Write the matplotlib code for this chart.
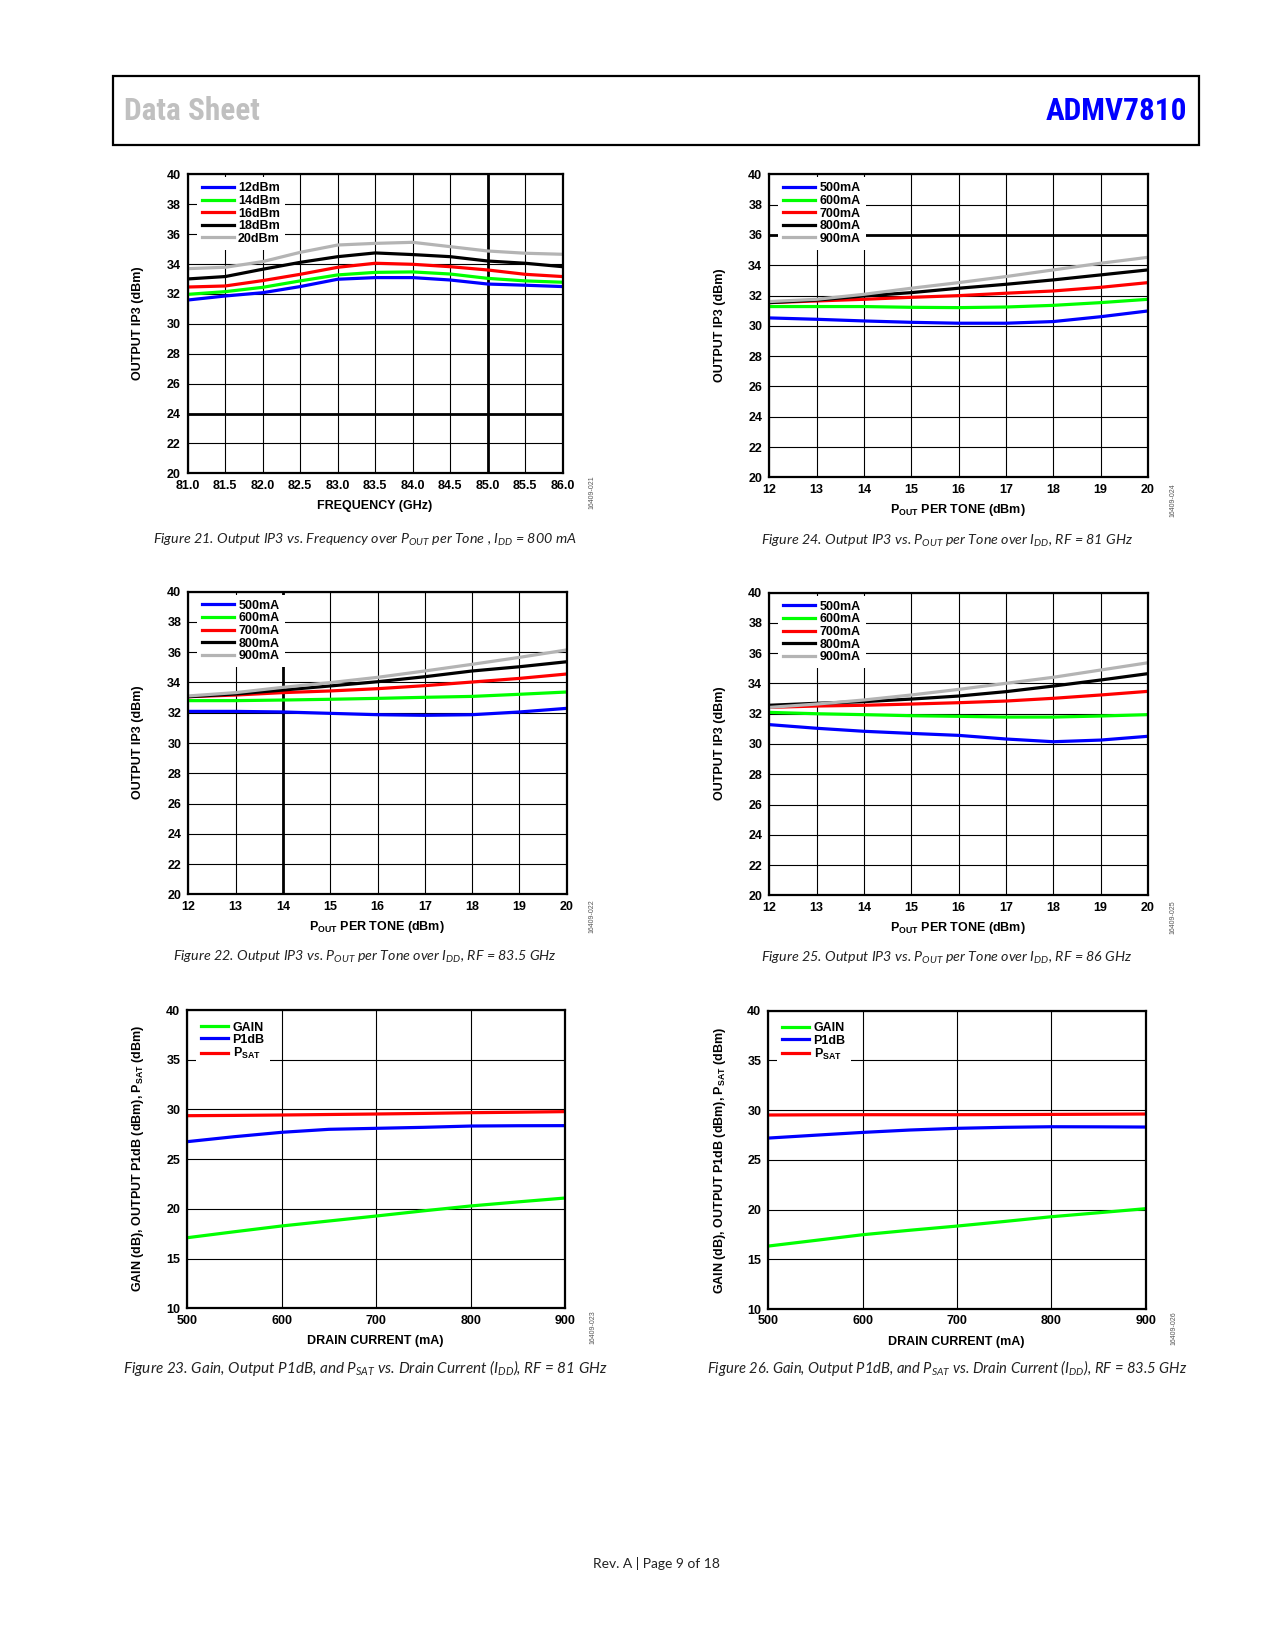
import matplotlib
matplotlib.use('Agg')
import matplotlib.pyplot as plt
from matplotlib.patches import Rectangle
from matplotlib.ticker import FormatStrFormatter

W, H = 1275, 1650

# Figure 21: output IP3 vs frequency, IDD = 800 mA
freq = [81.0, 81.5, 82.0, 82.5, 83.0, 83.5, 84.0, 84.5, 85.0, 85.5, 86.0]
f21_12 = [31.59, 31.86, 32.08, 32.49, 32.98, 33.09, 33.09, 32.93, 32.66, 32.58, 32.49]
f21_14 = [31.97, 32.15, 32.44, 32.87, 33.27, 33.44, 33.47, 33.33, 33.04, 32.87, 32.78]
f21_16 = [32.46, 32.53, 32.89, 33.31, 33.78, 34.05, 33.98, 33.82, 33.60, 33.31, 33.16]
f21_18 = [33.00, 33.16, 33.65, 34.11, 34.49, 34.74, 34.63, 34.49, 34.20, 34.05, 33.82]
f21_20 = [33.69, 33.78, 34.16, 34.78, 35.27, 35.38, 35.45, 35.16, 34.87, 34.72, 34.65]

# Figures 22, 24, 25: output IP3 vs POUT per tone
pout = [12, 13, 14, 15, 16, 17, 18, 19, 20]
f22_500 = [32.09, 32.09, 32.05, 31.96, 31.87, 31.83, 31.87, 32.05, 32.29]
f22_600 = [32.80, 32.80, 32.84, 32.89, 32.95, 33.02, 33.08, 33.22, 33.37]
f22_700 = [33.06, 33.17, 33.33, 33.44, 33.59, 33.79, 34.03, 34.27, 34.56]
f22_800 = [33.06, 33.24, 33.50, 33.77, 34.05, 34.38, 34.76, 35.04, 35.37]
f22_900 = [33.11, 33.33, 33.68, 33.99, 34.34, 34.76, 35.20, 35.66, 36.15]

f24_500 = [30.52, 30.43, 30.32, 30.23, 30.17, 30.17, 30.28, 30.60, 30.98]
f24_600 = [31.27, 31.27, 31.27, 31.22, 31.20, 31.24, 31.35, 31.53, 31.75]
f24_700 = [31.53, 31.64, 31.75, 31.88, 31.99, 32.15, 32.30, 32.54, 32.85]
f24_800 = [31.53, 31.70, 31.97, 32.19, 32.48, 32.74, 33.03, 33.36, 33.69]
f24_900 = [31.60, 31.75, 32.08, 32.48, 32.85, 33.25, 33.69, 34.13, 34.52]

f25_500 = [31.28, 31.04, 30.84, 30.70, 30.57, 30.33, 30.15, 30.26, 30.51]
f25_600 = [32.09, 32.00, 31.94, 31.87, 31.83, 31.78, 31.78, 31.85, 31.94]
f25_700 = [32.42, 32.51, 32.56, 32.64, 32.73, 32.84, 33.02, 33.24, 33.48]
f25_800 = [32.56, 32.69, 32.80, 32.97, 33.17, 33.46, 33.83, 34.23, 34.65]
f25_900 = [32.42, 32.64, 32.91, 33.24, 33.61, 34.01, 34.41, 34.89, 35.37]

# Figures 23, 26: gain, P1dB, PSAT vs drain current
idd = [500, 550, 600, 650, 700, 750, 800, 850, 900]
f23_gain = [17.10, 17.70, 18.28, 18.78, 19.28, 19.80, 20.29, 20.70, 21.09]
f23_p1db = [26.76, 27.26, 27.70, 28.00, 28.10, 28.20, 28.33, 28.36, 28.37]
f23_psat = [29.37, 29.40, 29.44, 29.49, 29.54, 29.60, 29.67, 29.72, 29.78]
f26_gain = [16.33, 16.90, 17.47, 17.92, 18.34, 18.80, 19.28, 19.68, 20.09]
f26_p1db = [27.19, 27.48, 27.76, 28.00, 28.17, 28.27, 28.33, 28.32, 28.30]
f26_psat = [29.51, 29.53, 29.54, 29.54, 29.54, 29.55, 29.57, 29.59, 29.61]

pout_labels = ['12dBm', '14dBm', '16dBm', '18dBm', '20dBm']
idd_labels = ['500mA', '600mA', '700mA', '800mA', '900mA']
perf_labels = ['GAIN', 'P1dB', r'P$\mathbf{_{SAT}}$']

BLUE, GREEN, RED, GRAY = '#0000ff', '#00ff00', '#ff0000', '#b4b4b4'
five_colors = [BLUE, GREEN, RED, 'black', GRAY]

plt.rcParams['font.family'] = ['Liberation Sans', 'DejaVu Sans']
plt.rcParams['font.weight'] = 'bold'
plt.rcParams['mathtext.fontset'] = 'custom'
plt.rcParams['mathtext.bf'] = 'Liberation Sans:bold'
plt.rcParams['mathtext.rm'] = 'Liberation Sans:bold'
plt.rcParams['mathtext.it'] = 'Lato:style=italic:weight=normal'

fig = plt.figure(figsize=(W / 100, H / 100), dpi=100)


def fx(x):
    return x / W


def fy(y):
    return 1 - y / H


def make_axes(x0, y0, x1, y1):
    ax = fig.add_axes([fx(x0), fy(y1), (x1 - x0) / W, (y1 - y0) / H])
    ax.grid(True, color='black', lw=0.8)
    ax.set_axisbelow(True)
    for s in ax.spines.values():
        s.set_linewidth(1.6)
    ax.tick_params(length=0, labelsize=9, pad=4.5)
    ax.tick_params(axis='y', pad=5)
    return ax


def add_legend(ax, anchor, hl, rows):
    leg = ax.legend(loc='upper left', bbox_to_anchor=anchor, borderaxespad=0,
                    borderpad=0.4, handlelength=hl, handletextpad=0.35,
                    labelspacing=rows, frameon=True, fancybox=False,
                    framealpha=1, prop={'weight': 'bold', 'size': 9})
    leg.get_frame().set_linewidth(0)
    leg.set_zorder(5)
    return leg


def ip3_chart(box, x, series, labels, xticks, thick_x=(), thick_y=(), fmt=None):
    ax = make_axes(*box)
    for ys, c, lab in zip(series, five_colors, labels):
        ax.plot(x, ys, color=c, lw=2.3, label=lab)
    ax.set_xlim(xticks[0], xticks[-1])
    ax.set_ylim(20, 40)
    ax.set_xticks(xticks)
    ax.set_yticks(range(20, 41, 2))
    if fmt:
        ax.xaxis.set_major_formatter(FormatStrFormatter(fmt))
    for v in thick_x:
        ax.axvline(v, color='black', lw=2.0, zorder=0.6)
    for v in thick_y:
        ax.axhline(v, color='black', lw=2.0, zorder=0.6)
    for lab in ax.get_xticklabels() + ax.get_yticklabels():
        lab.set_fontweight('bold')
    add_legend(ax, (0.024, 0.99), 2.55, 0.05)
    return ax


def perf_chart(box, gain, p1db, psat):
    ax = make_axes(*box)
    for ys, c, lab in zip([gain, p1db, psat], [GREEN, BLUE, RED], perf_labels):
        ax.plot(idd, ys, color=c, lw=2.3, label=lab)
    ax.set_xlim(500, 900)
    ax.set_ylim(10, 40)
    ax.set_xticks(range(500, 901, 100))
    ax.set_yticks(range(10, 41, 5))
    for lab in ax.get_xticklabels() + ax.get_yticklabels():
        lab.set_fontweight('bold')
    add_legend(ax, (0.024, 0.978), 2.15, 0.02)
    return ax


ip3_chart((187.7, 174.3, 562.7, 473.3), freq, [f21_12, f21_14, f21_16, f21_18, f21_20],
          pout_labels, [81.0 + 0.5 * i for i in range(11)], thick_x=[85.0], thick_y=[24],
          fmt='%.1f')
ip3_chart((769.3, 174.3, 1148, 477.3), pout, [f24_500, f24_600, f24_700, f24_800, f24_900],
          idd_labels, pout, thick_y=[36])
ip3_chart((188.3, 591.7, 566.7, 894.3), pout, [f22_500, f22_600, f22_700, f22_800, f22_900],
          idd_labels, pout, thick_x=[14])
ip3_chart((769.3, 592.7, 1148, 895.3), pout, [f25_500, f25_600, f25_700, f25_800, f25_900],
          idd_labels, pout)
perf_chart((187.3, 1010, 565, 1308.3), f23_gain, f23_p1db, f23_psat)
perf_chart((768.3, 1010.7, 1145.7, 1309), f26_gain, f26_p1db, f26_psat)

# axis titles
lab_kw = dict(fontsize=9, fontweight='bold', ha='center', va='center')
fig.text(fx(375), fy(505.7), 'FREQUENCY (GHz)', **lab_kw)
pout_title = r'P$\mathbf{_{OUT}}$ PER TONE (dBm)'
fig.text(fx(958), fy(510), pout_title, **lab_kw)
fig.text(fx(377), fy(927), pout_title, **lab_kw)
fig.text(fx(958), fy(928), pout_title, **lab_kw)
fig.text(fx(375), fy(1340.7), 'DRAIN CURRENT (mA)', **lab_kw)
fig.text(fx(956.7), fy(1341.7), 'DRAIN CURRENT (mA)', **lab_kw)

for x, y in [(138, 323), (720, 325), (138, 742), (720, 743)]:
    fig.text(fx(x), fy(y), 'OUTPUT IP3 (dBm)', rotation=90, **lab_kw)
perf_title = r'GAIN (dB), OUTPUT P1dB (dBm), P$\mathbf{_{SAT}}$ (dBm)'
fig.text(fx(138), fy(1158), perf_title, rotation=90, **lab_kw)
fig.text(fx(720), fy(1160), perf_title, rotation=90, **lab_kw)

# figure id codes
codes = [(591.7, 491.7, '16409-021'), (1172.7, 500, '16409-024'),
         (591.7, 916, '16409-022'), (1172.7, 917, '16409-025'),
         (592.7, 1326.7, '16409-023'), (1174, 1328, '16409-026')]
for x, y, t in codes:
    fig.text(fx(x), fy(y), t, rotation=90, fontsize=5, fontweight='normal',
             color='#555555', ha='center', va='center')

# captions
cap_kw = dict(family=['Lato', 'DejaVu Sans'], style='italic', fontweight='normal',
              ha='center', va='center', color='#222222')
captions = [
    (365, 540, 10.3, r'Figure 21. Output IP3 vs. Frequency over P$_{OUT}$ per Tone , I$_{DD}$ = 800 mA'),
    (947, 541, 10.3, r'Figure 24. Output IP3 vs. P$_{OUT}$ per Tone over I$_{DD}$, RF = 81 GHz'),
    (365, 957, 10.3, r'Figure 22. Output IP3 vs. P$_{OUT}$ per Tone over I$_{DD}$, RF = 83.5 GHz'),
    (947, 958, 10.3, r'Figure 25. Output IP3 vs. P$_{OUT}$ per Tone over I$_{DD}$, RF = 86 GHz'),
    (365, 1368, 11, r'Figure 23. Gain, Output P1dB, and P$_{SAT}$ vs. Drain Current (I$_{DD}$), RF = 81 GHz'),
    (947, 1368, 10.6, r'Figure 26. Gain, Output P1dB, and P$_{SAT}$ vs. Drain Current (I$_{DD}$), RF = 83.5 GHz'),
]
for x, y, size, t in captions:
    fig.text(fx(x), fy(y), t, fontsize=size, **cap_kw)

# header
fig.add_artist(Rectangle((fx(112.6), fy(145)), (1199 - 112.6) / W, (145 - 76) / H,
                         transform=fig.transFigure, fill=False, lw=1.6, edgecolor='black'))
head_kw = dict(family=['Roboto Condensed', 'Roboto', 'DejaVu Sans'], fontstretch='condensed',
               fontweight='bold', fontsize=22.5, va='center')
fig.text(fx(124), fy(111.5), 'Data Sheet', color='#c0c0c0', ha='left', **head_kw)
fig.text(fx(1187), fy(111.5), 'ADMV7810', color='#0000ff', ha='right', **head_kw)

# footer
fig.text(fx(656), fy(1564), 'Rev. A | Page 9 of 18', family=['Lato', 'DejaVu Sans'],
         fontweight='normal', fontsize=10, ha='center', va='center', color='#222222')

fig.savefig('out.png', dpi=100)
